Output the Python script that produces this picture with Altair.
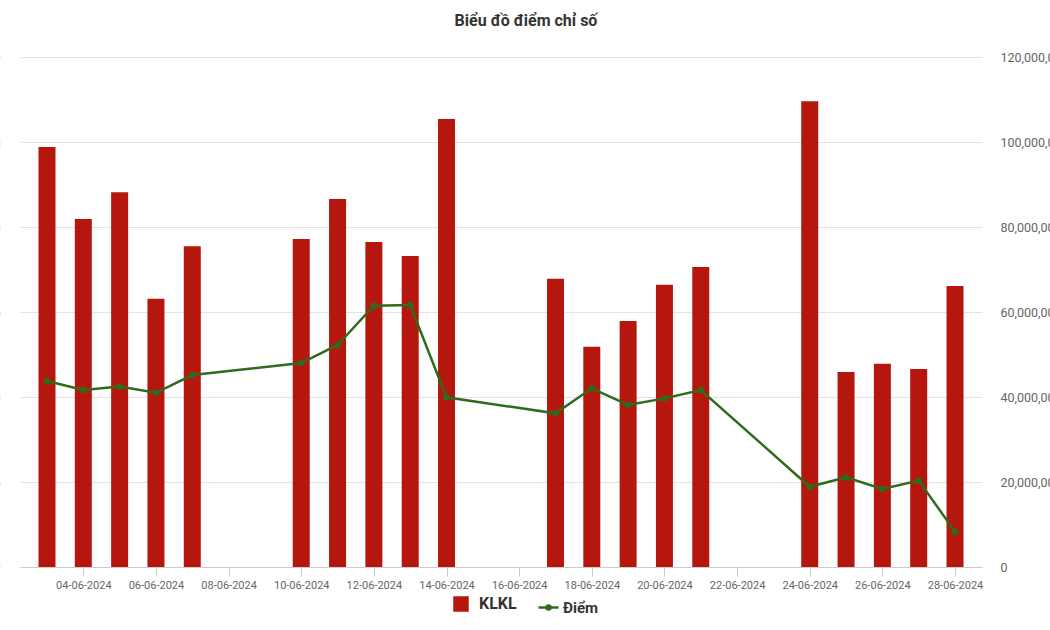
import altair as alt
import pandas as pd

# ---- data ----
dates = ["2024-06-03", "2024-06-04", "2024-06-05", "2024-06-06", "2024-06-07",
         "2024-06-10", "2024-06-11", "2024-06-12", "2024-06-13", "2024-06-14",
         "2024-06-17", "2024-06-18", "2024-06-19", "2024-06-20", "2024-06-21",
         "2024-06-24", "2024-06-25", "2024-06-26", "2024-06-27", "2024-06-28"]
klkl = [98.8e6, 81.9e6, 88.2e6, 63.1e6, 75.5e6,
        77.2e6, 86.6e6, 76.5e6, 73.2e6, 105.4e6,
        67.8e6, 51.8e6, 57.9e6, 66.4e6, 70.6e6,
        109.6e6, 45.9e6, 47.8e6, 46.6e6, 66.1e6]
diem = [240.94, 240.41, 240.61, 240.25, 241.29,
        242.00, 243.06, 245.37, 245.41, 239.98,
        239.04, 240.51, 239.53, 239.92, 240.41,
        234.72, 235.28, 234.59, 235.08, 232.08]
tick_days = [4, 6, 8, 10, 12, 14, 16, 18, 20, 22, 24, 26, 28]
right_ticks = [0, 20000000, 40000000, 60000000, 80000000, 100000000, 120000000]
left_ticks = [230, 235, 240, 245, 250, 255, 260]

df = pd.DataFrame({"date": [d + "T00:00:00Z" for d in dates],
                   "KLKL": klkl, "Diem": diem,
                   "s1": ["KLKL"] * len(dates), "s2": ["Điểm"] * len(dates)})

FONT = "Roboto"
RED = "#B5170E"
GREEN = "#2F6B1C"

x_scale = alt.Scale(type="utc", padding=0,
                    domain=[alt.DateTime(year=2024, month=6, date=2, hours=6, minutes=10, utc=True),
                            alt.DateTime(year=2024, month=6, date=28, hours=17, minutes=50, utc=True)])
x_axis = alt.Axis(values=[alt.DateTime(year=2024, month=6, date=d, utc=True) for d in tick_days],
                  labelExpr="utcFormat(datum.value, '%d-%m-%Y')", title=None, grid=False,
                  domainColor="#cccccc", tickColor="#cccccc", tickSize=9,
                  labelPadding=3, labelFontSize=11, labelColor="#666666", labelFont=FONT)

bars = alt.Chart(df).mark_bar(size=17).encode(
    x=alt.X("date:T", scale=x_scale, axis=x_axis),
    y=alt.Y("KLKL:Q", scale=alt.Scale(domain=[0, 120000000], nice=False),
            axis=alt.Axis(orient="right", values=right_ticks,
                          labelExpr="format(datum.value, ',')", title=None,
                          grid=True, gridColor="#e3e3e3", domain=False, ticks=False,
                          labelPadding=18, labelFontSize=12.5, labelColor="#666666",
                          labelFont=FONT)),
    fill=alt.Fill("s1:N", scale=alt.Scale(domain=["KLKL"], range=[RED]),
                  legend=alt.Legend(title=None, orient="none", legendX=433, legendY=539,
                                    symbolType="square", symbolSize=240, symbolStrokeWidth=0,
                                    labelOffset=10,
                                    labelFont=FONT, labelFontSize=16, labelFontWeight="bold",
                                    labelColor="#333333", padding=0)),
)

line = alt.Chart(df).mark_line(
    strokeWidth=2.5,
    point=alt.OverlayMarkDef(filled=True, fill=GREEN, size=20),
).encode(
    x=alt.X("date:T", scale=x_scale, axis=x_axis),
    y=alt.Y("Diem:Q", scale=alt.Scale(domain=[230, 260], nice=False),
            axis=alt.Axis(orient="left", values=left_ticks, title=None, grid=False,
                          domain=False, ticks=False, labelPadding=20, labelFontSize=12,
                          labelColor="#666666", labelFont=FONT)),
    stroke=alt.Stroke("s2:N", scale=alt.Scale(domain=["Điểm"], range=[GREEN]),
                      legend=alt.Legend(title=None, orient="none", legendX=517, legendY=539,
                                        symbolType="M-1,0H1M-0.2,0A0.2,0.2,0,1,1,0.2,0A0.2,0.2,0,1,1,-0.2,0Z",
                                        symbolSize=400, symbolStrokeWidth=2.5,
                                        symbolFillColor=GREEN, labelOffset=3,
                                        labelFont=FONT, labelFontSize=15, labelFontWeight="bold",
                                        labelColor="#333333", padding=0)),
)

chart = alt.layer(bars, line).resolve_scale(y="independent").properties(
    width=962, height=510,
    autosize=alt.AutoSizeParams(type="none"),
    padding={"left": 20, "top": 57, "right": 68, "bottom": 63},
    title=alt.TitleParams("Biểu đồ điểm chỉ số", anchor="middle", dx=25, offset=22,
                          fontSize=16, font=FONT, fontWeight="bold", color="#333333"),
).configure(background="white").configure_view(stroke=None)

chart.save("out.html", embed_options={"renderer": "svg", "actions": False})
